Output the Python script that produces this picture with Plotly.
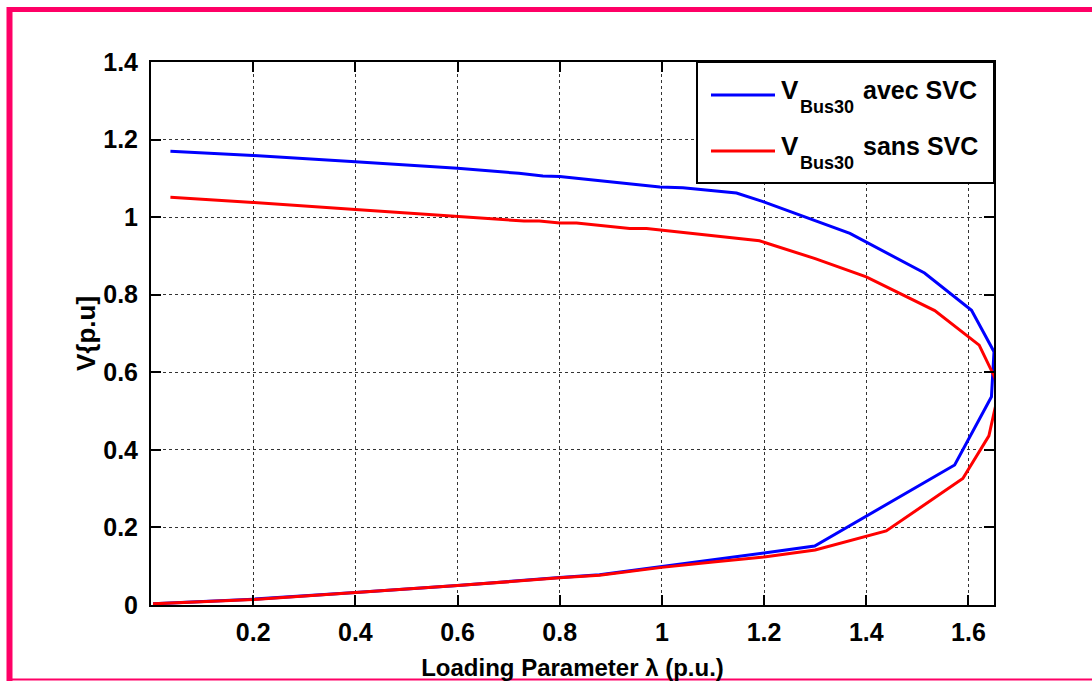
import plotly.graph_objects as go

# ---------------- data ----------------
lam_avec = [0.038, 0.2, 0.4, 0.6, 0.72, 0.767, 0.8, 0.996, 1.041, 1.146, 1.198, 1.368,
            1.514, 1.606, 1.65, 1.648, 1.645, 1.573, 1.299, 1.2, 1.1, 1.0, 0.878, 0.8,
            0.6, 0.4, 0.2, 0.004]
v_avec = [1.170, 1.159, 1.143, 1.126, 1.113, 1.106, 1.105, 1.078, 1.076, 1.062, 1.040, 0.958,
          0.856, 0.760, 0.653, 0.588, 0.537, 0.361, 0.152, 0.134, 0.116, 0.099, 0.078, 0.071,
          0.050, 0.032, 0.015, 0.003]

lam_sans = [0.038, 0.2, 0.4, 0.487, 0.6, 0.73, 0.76, 0.8, 0.833, 0.937, 0.97, 1.191, 1.3,
            1.4, 1.534, 1.621, 1.651, 1.66, 1.652, 1.640, 1.589, 1.439, 1.3, 1.2, 1.1, 1.0,
            0.878, 0.8, 0.6, 0.4, 0.2, 0.004]
v_sans = [1.051, 1.038, 1.020, 1.012, 1.000, 0.990, 0.990, 0.985, 0.985, 0.971, 0.971, 0.939, 0.893,
          0.846, 0.759, 0.670, 0.588, 0.550, 0.507, 0.436, 0.326, 0.191, 0.142, 0.124, 0.111, 0.097,
          0.077, 0.070, 0.050, 0.032, 0.014, 0.003]

x_ticks = [0.2, 0.4, 0.6, 0.8, 1.0, 1.2, 1.4, 1.6]
x_ticktext = ["0.2", "0.4", "0.6", "0.8", "1", "1.2", "1.4", "1.6"]
y_ticks = [0, 0.2, 0.4, 0.6, 0.8, 1.0, 1.2, 1.4]
y_ticktext = ["0", "0.2", "0.4", "0.6", "0.8", "1", "1.2", "1.4"]

legend_main = "V"
legend_sub = "Bus30"
legend_suffix = ["avec SVC", "sans SVC"]

# ---------------- layout geometry ----------------
W, H = 1092, 681
L, R, T, B = 151, 98, 62, 76
PW, PH = W - L - R, H - T - B


def px(x):
    return (x - L) / PW


def py(y):
    return (H - B - y) / PH


FONT = "Liberation Sans, Arial, Helvetica, sans-serif"
BLUE = "#0000FF"
RED = "#FF0000"
PINK = "#FF0066"

fig = go.Figure()
fig.add_trace(go.Scatter(x=lam_avec, y=v_avec, mode="lines",
                         name=legend_main + legend_sub + " " + legend_suffix[0],
                         line=dict(color=BLUE, width=3), showlegend=False))
fig.add_trace(go.Scatter(x=lam_sans, y=v_sans, mode="lines",
                         name=legend_main + legend_sub + " " + legend_suffix[1],
                         line=dict(color=RED, width=3), showlegend=False))

axis_common = dict(
    automargin=False,
    showline=True, linecolor="black", linewidth=2, mirror="ticks",
    ticks="inside", ticklen=10, tickwidth=2, tickcolor="black",
    showgrid=True, gridcolor="#333333", gridwidth=1, griddash="dot",
    zeroline=False,
    tickfont=dict(family=FONT, size=25, color="black", weight="bold"),
)

fig.update_xaxes(range=[0, 1.65], tickvals=x_ticks, ticktext=x_ticktext,
                 ticklabelstandoff=4,
                 title=dict(text="Loading Parameter λ (p.u.)", standoff=14,
                            font=dict(family=FONT, size=24, color="black", weight="bold")),
                 **axis_common)
fig.update_yaxes(range=[0, 1.4], tickvals=y_ticks, ticktext=y_ticktext,
                 ticklabelstandoff=6,
                 title=dict(text="V{p.u]", standoff=0,
                            font=dict(family=FONT, size=26, color="black", weight="bold")),
                 **axis_common)

shapes = []
# manual legend box
shapes.append(dict(type="rect", xref="paper", yref="paper",
                   x0=px(697), x1=px(994), y0=py(183), y1=py(62),
                   fillcolor="white", line=dict(color="black", width=2), layer="above"))
# pink frame
shapes.append(dict(type="line", xref="paper", yref="paper",
                   x0=px(7), x1=px(1092), y0=py(9.5), y1=py(9.5),
                   line=dict(color=PINK, width=5), layer="above"))
shapes.append(dict(type="line", xref="paper", yref="paper",
                   x0=px(9.5), x1=px(9.5), y0=py(7), y1=py(681),
                   line=dict(color=PINK, width=6), layer="above"))
shapes.append(dict(type="line", xref="paper", yref="paper",
                   x0=px(7), x1=px(1092), y0=py(679.5), y1=py(679.5),
                   line=dict(color=PINK, width=2), layer="above"))

annotations = []
rows = [(95, BLUE, legend_suffix[0]), (151, RED, legend_suffix[1])]
for line_y, col, suffix in rows:
    shapes.append(dict(type="line", xref="paper", yref="paper",
                       x0=px(711), x1=px(775), y0=py(line_y), y1=py(line_y),
                       line=dict(color=col, width=3), layer="above"))
    annotations.append(dict(text=legend_main, xref="paper", yref="paper",
                            x=px(779), y=py(line_y - 5), xanchor="left", yanchor="middle",
                            showarrow=False,
                            font=dict(family=FONT, size=26, color="black", weight="bold")))
    annotations.append(dict(text=legend_sub, xref="paper", yref="paper",
                            x=px(798), y=py(line_y + 12), xanchor="left", yanchor="middle",
                            showarrow=False,
                            font=dict(family=FONT, size=18, color="black", weight="bold")))
    annotations.append(dict(text=suffix, xref="paper", yref="paper",
                            x=px(861), y=py(line_y - 5), xanchor="left", yanchor="middle",
                            showarrow=False,
                            font=dict(family=FONT, size=25, color="black", weight="bold")))

fig.update_layout(
    width=W, height=H,
    margin=dict(l=L, r=R, t=T, b=B, pad=0),
    paper_bgcolor="white", plot_bgcolor="white",
    shapes=shapes, annotations=annotations,
    showlegend=False,
)

fig.write_html("out.html")
